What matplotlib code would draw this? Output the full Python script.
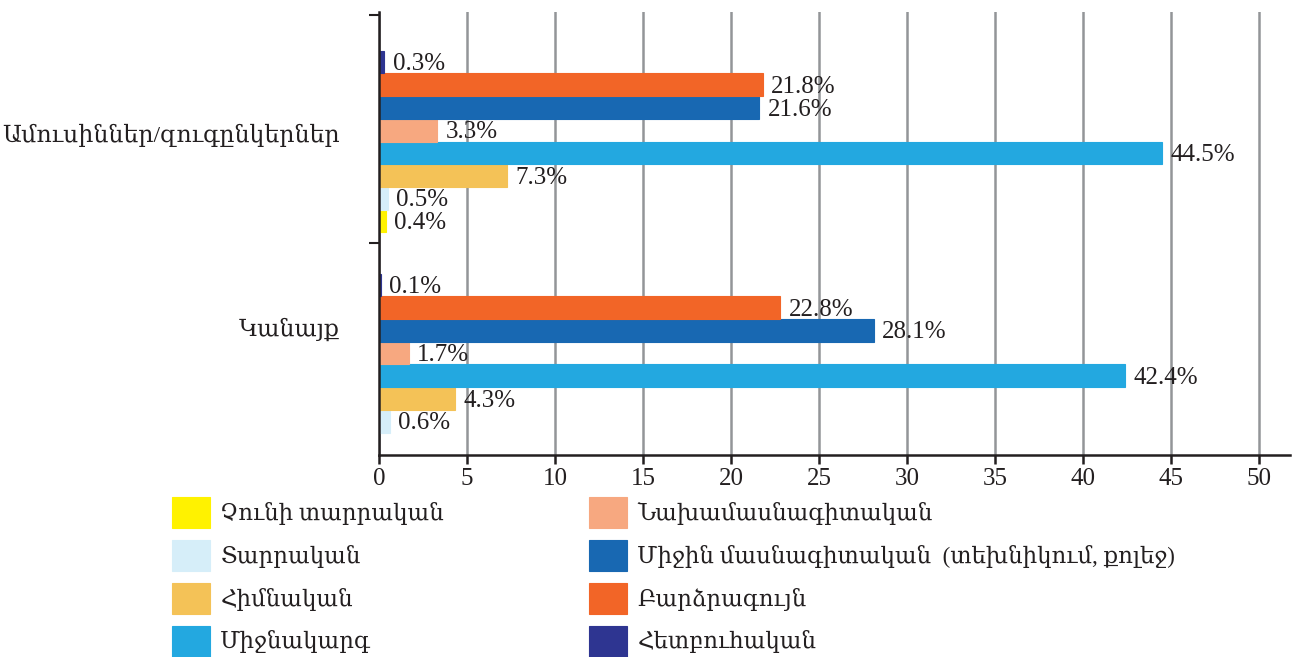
import matplotlib
matplotlib.use('Agg')
import matplotlib.pyplot as plt
import numpy as np

plt.rcParams['font.family'] = ['Liberation Serif', 'DejaVu Serif']

# kategoriyaner (verevic nerqev)
groups = ['Ամուսիններ/զուգընկերներ', 'Կանայք']

# sharqer - nerqevic verev kargov
series = ['Չունի տարրական', 'Տարրական', 'Հիմնական', 'Միջնակարգ',
          'Նախամասնագիտական', 'Միջին մասնագիտական  (տեխնիկում, քոլեջ)',
          'Բարձրագույն', 'Հետբուհական']
colors = ['#FFF200', '#D6EEF9', '#F4C257', '#23A8E0',
          '#F7A880', '#1868B2', '#F26527', '#2E3591']

spouses = [0.4, 0.5, 7.3, 44.5, 3.3, 21.6, 21.8, 0.3]
women = [np.nan, 0.6, 4.3, 42.4, 1.7, 28.1, 22.8, 0.1]

xticks = list(range(0, 55, 5))

W, H = 1294, 657
fig = plt.figure(figsize=(W / 100, H / 100), dpi=100)
ax = fig.add_axes([379 / W, 1 - 455 / H, (1290 - 379) / W, (455 - 12) / H])

group_y = np.array([1.0, 0.0])
h = 22.7 / 222.7

for i, (name, col) in enumerate(zip(series, colors)):
    vals = np.array([spouses[i], women[i]])
    y = group_y + (i - 3.5) * h
    ax.barh(y, vals, height=h, color=col, edgecolor=col, linewidth=0.8,
            label=name, zorder=3)
    for yy, v in zip(y, vals):
        if np.isnan(v):
            continue
        ax.annotate('{:.1f}%'.format(v), xy=(v, yy), xytext=(6, -1.5),
                    textcoords='offset points', ha='left', va='center',
                    fontsize=18, color='#231F20', zorder=4)

ax.set_xlim(0, (1290 - 379) / 17.6)
ax.set_ylim(-(455 - 364.5) / 222.7, 1 + (141.5 - 12) / 222.7)

ax.set_xticks(xticks)
ax.set_xticklabels([str(t) for t in xticks], fontsize=18, color='#231F20')
ax.tick_params(axis='x', length=6.5, width=1.8, color='#231F20', pad=3)
ax.xaxis.grid(True, color='#939598', linewidth=1.8, zorder=0)
ax.set_axisbelow(True)

ax.set_yticks([1.04, 0.17])
ax.set_yticklabels(groups, fontsize=17, color='#231F20')
ax.tick_params(axis='y', which='major', length=0, pad=28)
ax.set_yticks([1 + (141.5 - 15) / 222.7, 1 - (243 - 141.5) / 222.7], minor=True)
ax.tick_params(axis='y', which='minor', length=7, width=1.5, color='#231F20')

for s in ['top', 'right']:
    ax.spines[s].set_visible(False)
for s in ['left', 'bottom']:
    ax.spines[s].set_linewidth(1.8)
    ax.spines[s].set_color('#231F20')
    ax.spines[s].set_zorder(5)

handles, labels = ax.get_legend_handles_labels()
leg_kw = dict(frameon=False, fontsize=16.5, handlelength=1.66, handleheight=1.7,
              labelspacing=0.52, handletextpad=0.45, borderpad=0, borderaxespad=0,
              loc='upper left', labelcolor='#231F20')
leg1 = fig.legend(handles[:4], labels[:4], bbox_to_anchor=(172 / W, 1 - 497 / H), **leg_kw)
leg2 = fig.legend(handles[4:], labels[4:], bbox_to_anchor=(589 / W, 1 - 497 / H), **leg_kw)

fig.savefig('out.png', dpi=100)
